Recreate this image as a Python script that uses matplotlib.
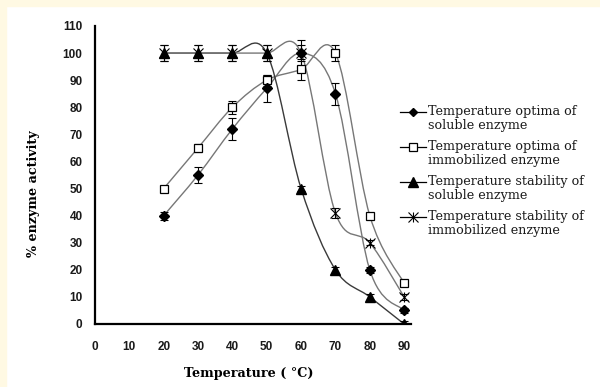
import matplotlib
matplotlib.use("Agg")
import matplotlib.pyplot as plt
import numpy as np
from matplotlib.path import Path
from matplotlib.patches import PathPatch, Rectangle
from matplotlib.lines import Line2D

temps = [20, 30, 40, 50, 60, 70, 80, 90]

optima_soluble = [40, 55, 72, 87, 100, 85, 20, 5]
optima_immob = [50, 65, 80, 90, 94, 100, 40, 15]
stab_soluble = [100, 100, 100, 100, 50, 20, 10, 0]
stab_immob = [100, 100, 100, 100, 100, 41, 30, 10]

err_optima_soluble = [1.5, 3, 4, 5, 5, 4, 1, 1]
err_optima_immob = [1, 1.5, 2.5, 2, 4, 3, 1, 1]
err_stab_soluble = [3, 3, 3, 3, 1, 1, 1, 1]
err_stab_immob = [3, 3, 3, 3, 3, 2, 1, 1]

labels = ["Temperature optima of\nsoluble enzyme",
          "Temperature optima of\nimmobilized enzyme",
          "Temperature stability of\nsoluble enzyme",
          "Temperature stability of\nimmobilized enzyme"]

W, H = 600, 387
fig = plt.figure(figsize=(W / 100, H / 100), dpi=100, facecolor="white")
cream = "#fff9e3"
fig.patches.append(Rectangle((0, 0), 6 / W, 1, transform=fig.transFigure, color=cream, zorder=0))
fig.patches.append(Rectangle((0, 1 - 6 / H), 1, 6 / H, transform=fig.transFigure, color=cream, zorder=0))

ax_l, ax_r, ax_t, ax_b = 95, 411, 26, 324
ax = fig.add_axes([ax_l / W, 1 - ax_b / H, (ax_r - ax_l) / W, (ax_b - ax_t) / H])
xmax, ymax = 92, 110
ax.set_xlim(0, xmax)
ax.set_ylim(0, ymax)
sx = (ax_r - ax_l) / xmax
sy = (ax_b - ax_t) / ymax


def smooth_path(xs, ys):
    # excel-style smoothed line: bezier segments with catmull-rom control points in pixel space
    p = np.column_stack([np.array(xs) * sx, np.array(ys) * sy])
    n = len(p)
    verts = [p[0]]
    codes = [Path.MOVETO]
    for i in range(n - 1):
        p0 = p[i - 1] if i > 0 else p[i]
        p1, p2 = p[i], p[i + 1]
        p3 = p[i + 2] if i + 2 < n else p[i + 1]
        c1 = p1 + (p2 - p0) / 6
        c2 = p2 - (p3 - p1) / 6
        verts += [c1, c2, p2]
        codes += [Path.CURVE4] * 3
    verts = np.array(verts) / [sx, sy]
    return Path(verts, codes)


line_cols = ["#777777", "#777777", "#3a3a3a", "#777777"]
for ys, c in zip([optima_soluble, optima_immob, stab_soluble, stab_immob], line_cols):
    ax.add_patch(PathPatch(smooth_path(temps, ys), fill=False, edgecolor=c, lw=1.0, zorder=2))

for ys, e in zip([optima_soluble, optima_immob, stab_soluble, stab_immob],
                 [err_optima_soluble, err_optima_immob, err_stab_soluble, err_stab_immob]):
    ax.errorbar(temps, ys, yerr=e, fmt="none", ecolor="black", elinewidth=0.8,
                capsize=3, capthick=0.8, zorder=3)

ax.plot(temps, stab_immob, ls="none", marker="x", ms=6.5, mec="black", mew=0.8, zorder=4)
ax.plot(temps, stab_immob, ls="none", marker="|", ms=7.5, mec="black", mew=0.8, zorder=4)
ax.plot(temps, stab_soluble, ls="none", marker="^", ms=7.5, mfc="black", mec="black", zorder=5)
ax.plot(temps, optima_immob, ls="none", marker="s", ms=5.5, mfc="white", mec="black", mew=0.9, zorder=5)
ax.plot(temps, optima_soluble, ls="none", marker="D", ms=5, mfc="black", mec="black", zorder=6)

ax.set_xticks(range(0, 91, 10))
ax.set_yticks(range(0, 111, 10))
ax.tick_params(length=0)
ax.tick_params(axis="y", pad=9)
ax.tick_params(axis="x", pad=12)
for t in ax.get_xticklabels() + ax.get_yticklabels():
    t.set_family("Liberation Sans")
    t.set_fontweight("bold")
    t.set_fontsize(8.5)
    t.set_color("#1a1a1a")
for s in ["top", "right"]:
    ax.spines[s].set_visible(False)
for s in ["left", "bottom"]:
    ax.spines[s].set_linewidth(1.6)
ax.patch.set_alpha(0)

fig.text(249 / W, 1 - 373 / H, "Temperature ( °C)", family="DejaVu Serif", fontweight="bold",
         fontsize=9.2, ha="center", va="center")
fig.text(33 / W, 1 - 194 / H, "% enzyme activity", family="DejaVu Serif", fontweight="bold",
         fontsize=9.2, ha="center", va="center", rotation=90)

# legend drawn by hand so the key sits on the first text line
leg_y = [112, 147, 182, 217]
for i, y in enumerate(leg_y):
    yf = 1 - y / H
    fig.add_artist(Line2D([400 / W, 426 / W], [yf, yf], color="black", lw=0.9, transform=fig.transFigure))
    mx = [413 / W]
    if i == 0:
        fig.add_artist(Line2D(mx, [yf], marker="D", ms=4.5, mfc="black", mec="black", transform=fig.transFigure))
    elif i == 1:
        fig.add_artist(Line2D(mx, [yf], marker="s", ms=5.5, mfc="white", mec="black", mew=0.9,
                              transform=fig.transFigure))
    elif i == 2:
        fig.add_artist(Line2D(mx, [yf], marker="^", ms=7, mfc="black", mec="black", transform=fig.transFigure))
    else:
        fig.add_artist(Line2D(mx, [yf], marker="x", ms=6.5, mec="black", mew=0.8, transform=fig.transFigure))
        fig.add_artist(Line2D(mx, [yf], marker="|", ms=7.5, mec="black", mew=0.8, transform=fig.transFigure))
    fig.text(428 / W, yf + 7 / H, labels[i], family="DejaVu Serif", fontsize=9.2, ha="left", va="top",
             linespacing=1.1, color="#1a1a1a", transform=fig.transFigure)

fig.savefig("out.png", dpi=100, facecolor="white")
